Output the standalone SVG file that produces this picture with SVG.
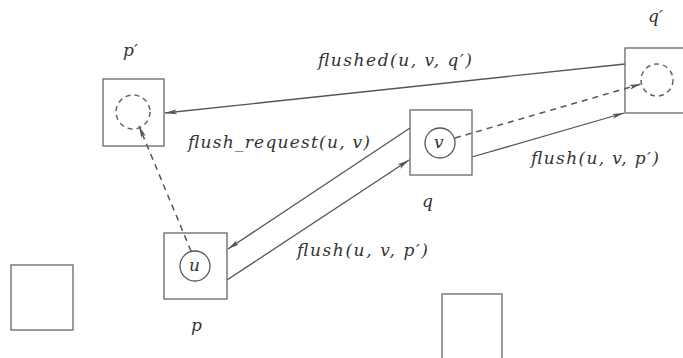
<svg xmlns="http://www.w3.org/2000/svg" width="683" height="358" viewBox="0 0 683 358">
<style>
.box{fill:none;stroke:#666;stroke-width:1.3}
.c{fill:none;stroke:#555;stroke-width:1.3}
.dc{fill:none;stroke:#666;stroke-width:1.5;stroke-dasharray:5,4}
.ln{fill:none;stroke:#555;stroke-width:1.3}
.dl{fill:none;stroke:#555;stroke-width:1.5;stroke-dasharray:6,5}
text{font-family:"DejaVu Serif","Liberation Serif",serif;font-style:italic;fill:#333;font-size:17px}
</style>
<defs>
<marker id="ah" viewBox="0 0 12 6" refX="12" refY="3" markerWidth="12" markerHeight="6" markerUnits="userSpaceOnUse" orient="auto">
<path d="M0,0.5 L12,3 L0,5.5 L3,3 Z" fill="#555"/>
</marker>
</defs>
<rect width="683" height="358" fill="#fff"/>
<g id="connectors">
<line class="ln" x1="625" y1="64" x2="165" y2="113" marker-end="url(#ah)"/>
<line class="ln" x1="410" y1="128" x2="228" y2="249" marker-end="url(#ah)"/>
<line class="ln" x1="227" y1="280" x2="409" y2="160" marker-end="url(#ah)"/>
<line class="ln" x1="472" y1="157" x2="624" y2="113" marker-end="url(#ah)"/>
<line class="dl" x1="455" y1="138" x2="641" y2="84" marker-end="url(#ah)"/>
<line class="dl" x1="191" y1="251" x2="139" y2="126" marker-end="url(#ah)"/>
</g>
<g id="pprime">
<rect class="box" x="103" y="79" width="61" height="67"/>
<circle class="dc" cx="133" cy="112" r="17"/>
<text x="123" y="56">p′</text>
</g>
<g id="qprime">
<rect class="box" x="625" y="48" width="63" height="65"/>
<circle class="dc" cx="657" cy="80" r="16"/>
<text x="648" y="22">q′</text>
</g>
<g id="q">
<rect class="box" x="410" y="110" width="62" height="65"/>
<circle class="c" cx="440" cy="143" r="15"/>
<text x="434" y="148">v</text>
<text x="422" y="207">q</text>
</g>
<g id="p">
<rect class="box" x="164" y="233" width="63" height="66"/>
<circle class="c" cx="195" cy="266" r="15"/>
<text x="189" y="271">u</text>
<text x="191" y="331">p</text>
</g>
<g id="left">
<rect class="box" x="11" y="265" width="62" height="65"/>
</g>
<g id="bottomright">
<rect class="box" x="442" y="294" width="60" height="70"/>
</g>
<g id="labels">
<text x="318" y="66" textLength="154" lengthAdjust="spacing">flushed(u, v, q′)</text>
<text x="188" y="148" textLength="182" lengthAdjust="spacing">flush_request(u, v)</text>
<text x="531" y="164" textLength="128" lengthAdjust="spacing">flush(u, v, p′)</text>
<text x="297" y="256" textLength="131" lengthAdjust="spacing">flush(u, v, p′)</text>
</g>
</svg>
